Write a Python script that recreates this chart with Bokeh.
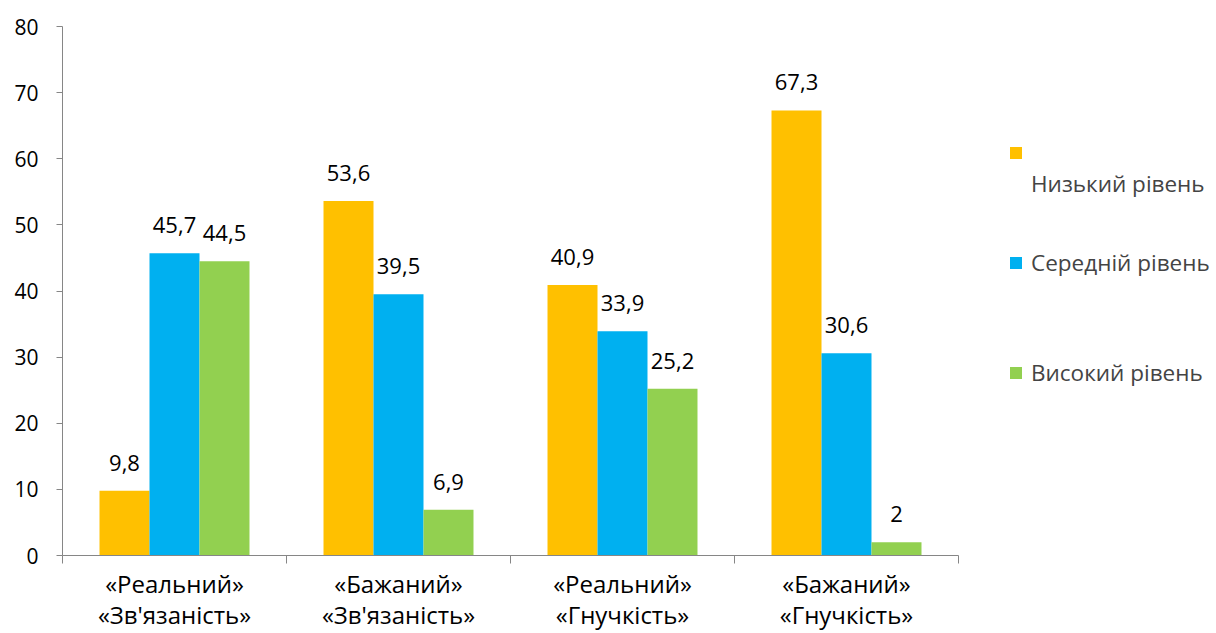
from bokeh.plotting import figure
from bokeh.models import ColumnDataSource, FixedTicker, Legend, LegendItem
from bokeh.core.properties import value
from bokeh.embed import file_html
from bokeh.resources import INLINE

categories = ["«Реальний»\n«Зв'язаність»", "«Бажаний»\n«Зв'язаність»",
              "«Реальний»\n«Гнучкість»", "«Бажаний»\n«Гнучкість»"]
series_names = ["Низький рівень", "Середній рівень", "Високий рівень"]
low = [9.8, 53.6, 40.9, 67.3]
mid = [45.7, 39.5, 33.9, 30.6]
high = [44.5, 6.9, 25.2, 2.0]
y_ticks = [0, 10, 20, 30, 40, 50, 60, 70, 80]

colors = ["#FFC000", "#00B0F0", "#92D050"]
FONT = "Open Sans"
bw = 0.2232

p = figure(frame_width=896, frame_height=529, x_range=(0, 4), y_range=(0, 80),
           output_backend="svg", toolbar_location=None,
           min_border_left=62, min_border_right=258, min_border_top=26, min_border_bottom=78)
p.outline_line_color = None
p.xgrid.visible = False
p.ygrid.visible = False

renderers = []
for k, vals in enumerate([low, mid, high]):
    xs = [i + 0.5 + (k - 1) * bw for i in range(4)]
    labels = [("%g" % v).replace(".", ",") for v in vals]
    src = ColumnDataSource(dict(x=xs, top=vals, lab=labels))
    r = p.vbar(x="x", top="top", width=bw, source=src, fill_color=colors[k], line_color=None)
    renderers.append(r)
    p.text(x="x", y="top", text="lab", source=src, text_align="center", text_baseline="alphabetic",
           y_offset=-28, text_font=value(FONT), text_font_size="22px", text_color="#000000")

# x axis
xa = p.xaxis[0]
xa.ticker = FixedTicker(ticks=[0.5, 1.5, 2.5, 3.5], minor_ticks=[0, 1, 2, 3, 4])
xa.major_label_overrides = {0.5 + i: c for i, c in enumerate(categories)}
xa.major_tick_out = 0
xa.major_tick_in = 0
xa.minor_tick_out = 8
xa.minor_tick_in = 0
xa.axis_line_color = "#868686"
xa.minor_tick_line_color = "#868686"
xa.major_label_text_font = FONT
xa.major_label_text_font_size = "24px"
xa.major_label_text_color = "#000000"
xa.major_label_text_line_height = 0.95
xa.major_label_standoff = 3

ya = p.yaxis[0]
ya.ticker = FixedTicker(ticks=y_ticks, minor_ticks=[])
ya.major_tick_out = 6
ya.major_tick_in = 0
ya.axis_line_color = "#868686"
ya.major_tick_line_color = "#868686"
ya.major_label_text_font = FONT
ya.major_label_text_font_size = "21px"
ya.major_label_text_color = "#000000"
ya.major_label_standoff = 18

NB = "\u00a0"
items = [LegendItem(label=NB + "\n" + NB + "\n" + series_names[0], renderers=[renderers[0]]),
         LegendItem(label=NB + "\n" + series_names[1] + "\n" + NB, renderers=[renderers[1]]),
         LegendItem(label=NB + "\n" + series_names[2] + "\n" + NB, renderers=[renderers[2]])]
legend = Legend(items=items, location=(50, 136), orientation="vertical",
                glyph_width=15, glyph_height=15, spacing=17, label_standoff=8,
                label_text_font=FONT, label_text_font_size="22.5px",
                label_text_line_height=1.5,
                border_line_color=None, background_fill_alpha=0, padding=0, margin=0)
p.add_layout(legend, "right")

open("out.html", "w").write(file_html(p, INLINE))
